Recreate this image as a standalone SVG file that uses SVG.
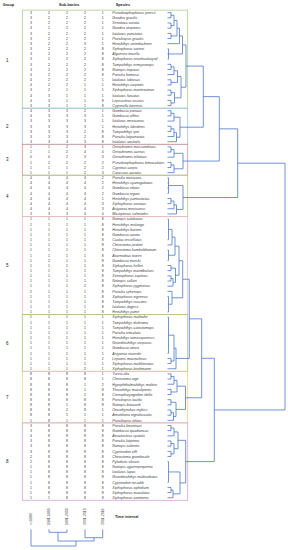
<svg xmlns="http://www.w3.org/2000/svg" width="288" height="550" viewBox="0 0 288 550">
<style>
text{font-family:"Liberation Sans",Arial,sans-serif;fill:#404040}
.h{font-size:3.8px;font-weight:bold;fill:#222}
.g{font-size:4.5px;fill:#222}
.n{font-size:3.5px;text-anchor:middle}
.s{font-size:3.6px;font-style:italic}
.box{fill:none;stroke-width:0.8}
.d{fill:none;stroke:#4472c4;stroke-width:0.75}
</style>
<rect width="288" height="550" fill="#fff"/>
<g id="header">
<text class="h" x="2.7" y="5.5">Group</text>
<text class="h" x="59" y="5.5">Sub-basins</text>
<text class="h" x="115.7" y="5.5">Species</text>
</g>
<g id="group1">
<rect class="box" x="22.3" y="10.1" width="165.4" height="98.1" stroke="#a9d08e"/>
<text class="g" x="6" y="61.6">1</text>
<text class="n" y="14"><tspan x="31">3</tspan><tspan x="49">2</tspan><tspan x="67">2</tspan><tspan x="85">2</tspan><tspan x="102.7">1</tspan></text><text class="s" x="112.3" y="14">Pseudoxiphophorus jonesii</text>
<text class="n" y="19.16"><tspan x="31">3</tspan><tspan x="49">2</tspan><tspan x="67">2</tspan><tspan x="85">2</tspan><tspan x="102.7">1</tspan></text><text class="s" x="112.3" y="19.16">Goodea gracilis</text>
<text class="n" y="24.32"><tspan x="31">3</tspan><tspan x="49">2</tspan><tspan x="67">2</tspan><tspan x="85">2</tspan><tspan x="102.7">1</tspan></text><text class="s" x="112.3" y="24.32">Xenotoca variata</text>
<text class="n" y="29.48"><tspan x="31">3</tspan><tspan x="49">2</tspan><tspan x="67">2</tspan><tspan x="85">2</tspan><tspan x="102.7">1</tspan></text><text class="s" x="112.3" y="29.48">Goodea atripinnis</text>
<text class="n" y="34.64"><tspan x="31">3</tspan><tspan x="49">2</tspan><tspan x="67">2</tspan><tspan x="85">2</tspan><tspan x="102.7">1</tspan></text><text class="s" x="112.3" y="34.64">Ictalurus punctatus</text>
<text class="n" y="39.8"><tspan x="31">3</tspan><tspan x="49">2</tspan><tspan x="67">2</tspan><tspan x="85">2</tspan><tspan x="102.7">1</tspan></text><text class="s" x="112.3" y="39.8">Poeciliopsis gracilis</text>
<text class="n" y="44.96"><tspan x="31">3</tspan><tspan x="49">2</tspan><tspan x="67">2</tspan><tspan x="85">3</tspan><tspan x="102.7">1</tspan></text><text class="s" x="112.3" y="44.96">Herichthys steindachneri</text>
<text class="n" y="50.12"><tspan x="31">3</tspan><tspan x="49">2</tspan><tspan x="67">2</tspan><tspan x="85">2</tspan><tspan x="102.7">8</tspan></text><text class="s" x="112.3" y="50.12">Xiphophorus cortezi</text>
<text class="n" y="55.28"><tspan x="31">3</tspan><tspan x="49">2</tspan><tspan x="67">2</tspan><tspan x="85">2</tspan><tspan x="102.7">8</tspan></text><text class="s" x="112.3" y="55.28">Algansea tincella</text>
<text class="n" y="60.44"><tspan x="31">3</tspan><tspan x="49">2</tspan><tspan x="67">2</tspan><tspan x="85">2</tspan><tspan x="102.7">8</tspan></text><text class="s" x="112.3" y="60.44">Xiphophorus nezahualcoyotl</text>
<text class="n" y="65.6"><tspan x="31">3</tspan><tspan x="49">2</tspan><tspan x="67">2</tspan><tspan x="85">2</tspan><tspan x="102.7">8</tspan></text><text class="s" x="112.3" y="65.6">Tampichthys erimyzonops</text>
<text class="n" y="70.76"><tspan x="31">3</tspan><tspan x="49">2</tspan><tspan x="67">2</tspan><tspan x="85">2</tspan><tspan x="102.7">8</tspan></text><text class="s" x="112.3" y="70.76">Notropis tropicus</text>
<text class="n" y="75.92"><tspan x="31">4</tspan><tspan x="49">2</tspan><tspan x="67">2</tspan><tspan x="85">2</tspan><tspan x="102.7">8</tspan></text><text class="s" x="112.3" y="75.92">Poecilia formosa</text>
<text class="n" y="81.08"><tspan x="31">4</tspan><tspan x="49">2</tspan><tspan x="67">2</tspan><tspan x="85">2</tspan><tspan x="102.7">1</tspan></text><text class="s" x="112.3" y="81.08">Ictalurus labiosus</text>
<text class="n" y="86.24"><tspan x="31">4</tspan><tspan x="49">2</tspan><tspan x="67">2</tspan><tspan x="85">1</tspan><tspan x="102.7">1</tspan></text><text class="s" x="112.3" y="86.24">Herichthys carpintis</text>
<text class="n" y="91.4"><tspan x="31">3</tspan><tspan x="49">2</tspan><tspan x="67">1</tspan><tspan x="85">1</tspan><tspan x="102.7">1</tspan></text><text class="s" x="112.3" y="91.4">Xiphophorus montezumae</text>
<text class="n" y="96.56"><tspan x="31">4</tspan><tspan x="49">3</tspan><tspan x="67">1</tspan><tspan x="85">1</tspan><tspan x="102.7">1</tspan></text><text class="s" x="112.3" y="96.56">Ictalurus furcatus</text>
<text class="n" y="101.72"><tspan x="31">4</tspan><tspan x="49">3</tspan><tspan x="67">1</tspan><tspan x="85">1</tspan><tspan x="102.7">8</tspan></text><text class="s" x="112.3" y="101.72">Lepisosteus osseus</text>
<text class="n" y="106.88"><tspan x="31">3</tspan><tspan x="49">3</tspan><tspan x="67">1</tspan><tspan x="85">1</tspan><tspan x="102.7">8</tspan></text><text class="s" x="112.3" y="106.88">Cyprinella lutrensis</text>
</g>
<g id="group2">
<rect class="box" x="22.3" y="108.2" width="165.4" height="36.1" stroke="#9dc3e6"/>
<text class="g" x="6" y="127.8">2</text>
<text class="n" y="112.04"><tspan x="31">4</tspan><tspan x="49">3</tspan><tspan x="67">3</tspan><tspan x="85">2</tspan><tspan x="102.7">1</tspan></text><text class="s" x="112.3" y="112.04">Gambusia panuco</text>
<text class="n" y="117.2"><tspan x="31">4</tspan><tspan x="49">3</tspan><tspan x="67">3</tspan><tspan x="85">3</tspan><tspan x="102.7">1</tspan></text><text class="s" x="112.3" y="117.2">Gambusia affinis</text>
<text class="n" y="122.36"><tspan x="31">3</tspan><tspan x="49">3</tspan><tspan x="67">3</tspan><tspan x="85">3</tspan><tspan x="102.7">1</tspan></text><text class="s" x="112.3" y="122.36">Ictalurus mexicanus</text>
<text class="n" y="127.52"><tspan x="31">3</tspan><tspan x="49">3</tspan><tspan x="67">3</tspan><tspan x="85">3</tspan><tspan x="102.7">1</tspan></text><text class="s" x="112.3" y="127.52">Herichthys labridens</text>
<text class="n" y="132.68"><tspan x="31">3</tspan><tspan x="49">3</tspan><tspan x="67">3</tspan><tspan x="85">2</tspan><tspan x="102.7">8</tspan></text><text class="s" x="112.3" y="132.68">Tampichthys ipni</text>
<text class="n" y="137.84"><tspan x="31">3</tspan><tspan x="49">3</tspan><tspan x="67">3</tspan><tspan x="85">2</tspan><tspan x="102.7">8</tspan></text><text class="s" x="112.3" y="137.84">Poecilia latipunctata</text>
<text class="n" y="143"><tspan x="31">3</tspan><tspan x="49">3</tspan><tspan x="67">3</tspan><tspan x="85">3</tspan><tspan x="102.7">8</tspan></text><text class="s" x="112.3" y="143">Ictalurus australis</text>
</g>
<g id="group3">
<rect class="box" x="22.3" y="144.3" width="165.4" height="30.9" stroke="#d99594"/>
<text class="g" x="6" y="161.3">3</text>
<text class="n" y="148.16"><tspan x="31">1</tspan><tspan x="49">1</tspan><tspan x="67">2</tspan><tspan x="85">3</tspan><tspan x="102.7">1</tspan></text><text class="s" x="112.3" y="148.16">Oreochromis mossambicus</text>
<text class="n" y="153.32"><tspan x="31">1</tspan><tspan x="49">1</tspan><tspan x="67">2</tspan><tspan x="85">4</tspan><tspan x="102.7">4</tspan></text><text class="s" x="112.3" y="153.32">Oreochromis aureus</text>
<text class="n" y="158.48"><tspan x="31">0</tspan><tspan x="49">0</tspan><tspan x="67">2</tspan><tspan x="85">3</tspan><tspan x="102.7">3</tspan></text><text class="s" x="112.3" y="158.48">Oreochromis niloticus</text>
<text class="n" y="163.64"><tspan x="31">1</tspan><tspan x="49">2</tspan><tspan x="67">2</tspan><tspan x="85">2</tspan><tspan x="102.7">2</tspan></text><text class="s" x="112.3" y="163.64">Pseudoxiphophorus bimaculatus</text>
<text class="n" y="168.8"><tspan x="31">1</tspan><tspan x="49">1</tspan><tspan x="67">1</tspan><tspan x="85">2</tspan><tspan x="102.7">2</tspan></text><text class="s" x="112.3" y="168.8">Cyprinus carpio</text>
<text class="n" y="173.96"><tspan x="31">1</tspan><tspan x="49">1</tspan><tspan x="67">1</tspan><tspan x="85">2</tspan><tspan x="102.7">3</tspan></text><text class="s" x="112.3" y="173.96">Carassius auratus</text>
</g>
<g id="group4">
<rect class="box" x="22.3" y="175.2" width="165.4" height="41.3" stroke="#a9d08e"/>
<text class="g" x="6" y="197.5">4</text>
<text class="n" y="179.12"><tspan x="31">4</tspan><tspan x="49">4</tspan><tspan x="67">4</tspan><tspan x="85">4</tspan><tspan x="102.7">2</tspan></text><text class="s" x="112.3" y="179.12">Poecilia mexicana</text>
<text class="n" y="184.28"><tspan x="31">4</tspan><tspan x="49">4</tspan><tspan x="67">4</tspan><tspan x="85">4</tspan><tspan x="102.7">2</tspan></text><text class="s" x="112.3" y="184.28">Herichthys cyanoguttatus</text>
<text class="n" y="189.44"><tspan x="31">4</tspan><tspan x="49">4</tspan><tspan x="67">4</tspan><tspan x="85">4</tspan><tspan x="102.7">2</tspan></text><text class="s" x="112.3" y="189.44">Gambusia vittata</text>
<text class="n" y="194.6"><tspan x="31">4</tspan><tspan x="49">4</tspan><tspan x="67">4</tspan><tspan x="85">4</tspan><tspan x="102.7">2</tspan></text><text class="s" x="112.3" y="194.6">Gambusia regani</text>
<text class="n" y="199.76"><tspan x="31">4</tspan><tspan x="49">4</tspan><tspan x="67">4</tspan><tspan x="85">4</tspan><tspan x="102.7">1</tspan></text><text class="s" x="112.3" y="199.76">Herichthys pantostictus</text>
<text class="n" y="204.92"><tspan x="31">4</tspan><tspan x="49">4</tspan><tspan x="67">4</tspan><tspan x="85">4</tspan><tspan x="102.7">3</tspan></text><text class="s" x="112.3" y="204.92">Xiphophorus variatus</text>
<text class="n" y="210.08"><tspan x="31">4</tspan><tspan x="49">4</tspan><tspan x="67">4</tspan><tspan x="85">4</tspan><tspan x="102.7">3</tspan></text><text class="s" x="112.3" y="210.08">Astyanax mexicanus</text>
<text class="n" y="215.24"><tspan x="31">3</tspan><tspan x="49">3</tspan><tspan x="67">3</tspan><tspan x="85">4</tspan><tspan x="102.7">4</tspan></text><text class="s" x="112.3" y="215.24">Micropterus salmoides</text>
</g>
<g id="group5">
<rect class="box" x="22.3" y="216.5" width="165.4" height="98.1" stroke="#f4b6c8"/>
<text class="g" x="6" y="267.1">5</text>
<text class="n" y="220.4"><tspan x="31">1</tspan><tspan x="49">1</tspan><tspan x="67">1</tspan><tspan x="85">1</tspan><tspan x="102.7">8</tspan></text><text class="s" x="112.3" y="220.4">Notropis calabazas</text>
<text class="n" y="225.56"><tspan x="31">1</tspan><tspan x="49">1</tspan><tspan x="67">1</tspan><tspan x="85">1</tspan><tspan x="102.7">8</tspan></text><text class="s" x="112.3" y="225.56">Herichthys molango</text>
<text class="n" y="230.72"><tspan x="31">1</tspan><tspan x="49">1</tspan><tspan x="67">1</tspan><tspan x="85">1</tspan><tspan x="102.7">8</tspan></text><text class="s" x="112.3" y="230.72">Herichthys bartoni</text>
<text class="n" y="235.88"><tspan x="31">1</tspan><tspan x="49">1</tspan><tspan x="67">1</tspan><tspan x="85">1</tspan><tspan x="102.7">8</tspan></text><text class="s" x="112.3" y="235.88">Gambusia aurata</text>
<text class="n" y="241.04"><tspan x="31">1</tspan><tspan x="49">1</tspan><tspan x="67">1</tspan><tspan x="85">1</tspan><tspan x="102.7">8</tspan></text><text class="s" x="112.3" y="241.04">Cualac tessellatus</text>
<text class="n" y="246.2"><tspan x="31">1</tspan><tspan x="49">1</tspan><tspan x="67">1</tspan><tspan x="85">1</tspan><tspan x="102.7">8</tspan></text><text class="s" x="112.3" y="246.2">Chirostoma jordani</text>
<text class="n" y="251.36"><tspan x="31">1</tspan><tspan x="49">1</tspan><tspan x="67">1</tspan><tspan x="85">1</tspan><tspan x="102.7">8</tspan></text><text class="s" x="112.3" y="251.36">Chirostoma humboldtianum</text>
<text class="n" y="256.52"><tspan x="31">1</tspan><tspan x="49">1</tspan><tspan x="67">1</tspan><tspan x="85">1</tspan><tspan x="102.7">8</tspan></text><text class="s" x="112.3" y="256.52">Ataeniobius toweri</text>
<text class="n" y="261.68"><tspan x="31">1</tspan><tspan x="49">2</tspan><tspan x="67">1</tspan><tspan x="85">1</tspan><tspan x="102.7">8</tspan></text><text class="s" x="112.3" y="261.68">Gambusia marshi</text>
<text class="n" y="266.84"><tspan x="31">1</tspan><tspan x="49">1</tspan><tspan x="67">1</tspan><tspan x="85">1</tspan><tspan x="102.7">8</tspan></text><text class="s" x="112.3" y="266.84">Xiphophorus helleri</text>
<text class="n" y="272"><tspan x="31">1</tspan><tspan x="49">1</tspan><tspan x="67">1</tspan><tspan x="85">1</tspan><tspan x="102.7">8</tspan></text><text class="s" x="112.3" y="272">Tampichthys mandibularis</text>
<text class="n" y="277.16"><tspan x="31">1</tspan><tspan x="49">1</tspan><tspan x="67">1</tspan><tspan x="85">1</tspan><tspan x="102.7">8</tspan></text><text class="s" x="112.3" y="277.16">Xenoophorus captivus</text>
<text class="n" y="282.32"><tspan x="31">1</tspan><tspan x="49">1</tspan><tspan x="67">1</tspan><tspan x="85">1</tspan><tspan x="102.7">8</tspan></text><text class="s" x="112.3" y="282.32">Notropis sallaei</text>
<text class="n" y="287.48"><tspan x="31">1</tspan><tspan x="49">1</tspan><tspan x="67">1</tspan><tspan x="85">2</tspan><tspan x="102.7">8</tspan></text><text class="s" x="112.3" y="287.48">Xiphophorus pygmaeus</text>
<text class="n" y="292.64"><tspan x="31">2</tspan><tspan x="49">1</tspan><tspan x="67">1</tspan><tspan x="85">1</tspan><tspan x="102.7">8</tspan></text><text class="s" x="112.3" y="292.64">Poecilia sphenops</text>
<text class="n" y="297.8"><tspan x="31">1</tspan><tspan x="49">1</tspan><tspan x="67">1</tspan><tspan x="85">1</tspan><tspan x="102.7">8</tspan></text><text class="s" x="112.3" y="297.8">Xiphophorus nigrensis</text>
<text class="n" y="302.96"><tspan x="31">1</tspan><tspan x="49">1</tspan><tspan x="67">1</tspan><tspan x="85">1</tspan><tspan x="102.7">8</tspan></text><text class="s" x="112.3" y="302.96">Tampichthys rasconis</text>
<text class="n" y="308.12"><tspan x="31">1</tspan><tspan x="49">1</tspan><tspan x="67">1</tspan><tspan x="85">1</tspan><tspan x="102.7">8</tspan></text><text class="s" x="112.3" y="308.12">Ictalurus dugesii</text>
<text class="n" y="313.28"><tspan x="31">1</tspan><tspan x="49">1</tspan><tspan x="67">1</tspan><tspan x="85">1</tspan><tspan x="102.7">8</tspan></text><text class="s" x="112.3" y="313.28">Herichthys pame</text>
</g>
<g id="group6">
<rect class="box" x="22.3" y="314.6" width="165.4" height="56.7" stroke="#a9c47f"/>
<text class="g" x="6" y="344.5">6</text>
<text class="n" y="318.44"><tspan x="31">1</tspan><tspan x="49">1</tspan><tspan x="67">1</tspan><tspan x="85">1</tspan><tspan x="102.7">1</tspan></text><text class="s" x="112.3" y="318.44">Xiphophorus malinche</text>
<text class="n" y="323.6"><tspan x="31">1</tspan><tspan x="49">1</tspan><tspan x="67">1</tspan><tspan x="85">1</tspan><tspan x="102.7">1</tspan></text><text class="s" x="112.3" y="323.6">Tampichthys dichroma</text>
<text class="n" y="328.76"><tspan x="31">1</tspan><tspan x="49">1</tspan><tspan x="67">1</tspan><tspan x="85">1</tspan><tspan x="102.7">1</tspan></text><text class="s" x="112.3" y="328.76">Tampichthys catostomops</text>
<text class="n" y="333.92"><tspan x="31">1</tspan><tspan x="49">1</tspan><tspan x="67">1</tspan><tspan x="85">1</tspan><tspan x="102.7">1</tspan></text><text class="s" x="112.3" y="333.92">Poecilia reticulata</text>
<text class="n" y="339.08"><tspan x="31">1</tspan><tspan x="49">1</tspan><tspan x="67">1</tspan><tspan x="85">1</tspan><tspan x="102.7">1</tspan></text><text class="s" x="112.3" y="339.08">Herichthys tamasopoensis</text>
<text class="n" y="344.24"><tspan x="31">1</tspan><tspan x="49">1</tspan><tspan x="67">1</tspan><tspan x="85">1</tspan><tspan x="102.7">1</tspan></text><text class="s" x="112.3" y="344.24">Girardinichthys viviparus</text>
<text class="n" y="349.4"><tspan x="31">1</tspan><tspan x="49">1</tspan><tspan x="67">1</tspan><tspan x="85">1</tspan><tspan x="102.7">1</tspan></text><text class="s" x="112.3" y="349.4">Gambusia atrora</text>
<text class="n" y="354.56"><tspan x="31">1</tspan><tspan x="49">1</tspan><tspan x="67">1</tspan><tspan x="85">1</tspan><tspan x="102.7">1</tspan></text><text class="s" x="112.3" y="354.56">Astyanax rioverde</text>
<text class="n" y="359.72"><tspan x="31">1</tspan><tspan x="49">1</tspan><tspan x="67">1</tspan><tspan x="85">1</tspan><tspan x="102.7">2</tspan></text><text class="s" x="112.3" y="359.72">Lepomis macrochirus</text>
<text class="n" y="364.88"><tspan x="31">1</tspan><tspan x="49">1</tspan><tspan x="67">1</tspan><tspan x="85">1</tspan><tspan x="102.7">1</tspan></text><text class="s" x="112.3" y="364.88">Xiphophorus multilineatus</text>
<text class="n" y="370.04"><tspan x="31">1</tspan><tspan x="49">1</tspan><tspan x="67">1</tspan><tspan x="85">2</tspan><tspan x="102.7">1</tspan></text><text class="s" x="112.3" y="370.04">Xiphophorus birchmanni</text>
</g>
<g id="group7">
<rect class="box" x="22.3" y="371.3" width="165.4" height="51.6" stroke="#f4d27a"/>
<text class="g" x="6" y="398.7">7</text>
<text class="n" y="375.2"><tspan x="31">8</tspan><tspan x="49">8</tspan><tspan x="67">8</tspan><tspan x="85">8</tspan><tspan x="102.7">1</tspan></text><text class="s" x="112.3" y="375.2">Yuriria alta</text>
<text class="n" y="380.36"><tspan x="31">8</tspan><tspan x="49">8</tspan><tspan x="67">8</tspan><tspan x="85">8</tspan><tspan x="102.7">1</tspan></text><text class="s" x="112.3" y="380.36">Chirostoma arge</text>
<text class="n" y="385.52"><tspan x="31">8</tspan><tspan x="49">8</tspan><tspan x="67">8</tspan><tspan x="85">1</tspan><tspan x="102.7">2</tspan></text><text class="s" x="112.3" y="385.52">Hypophthalmichthys molitrix</text>
<text class="n" y="390.68"><tspan x="31">8</tspan><tspan x="49">8</tspan><tspan x="67">8</tspan><tspan x="85">1</tspan><tspan x="102.7">8</tspan></text><text class="s" x="112.3" y="390.68">Thorichthys maculipinnis</text>
<text class="n" y="395.84"><tspan x="31">8</tspan><tspan x="49">8</tspan><tspan x="67">8</tspan><tspan x="85">2</tspan><tspan x="102.7">8</tspan></text><text class="s" x="112.3" y="395.84">Ctenopharyngodon idella</text>
<text class="n" y="401"><tspan x="31">8</tspan><tspan x="49">8</tspan><tspan x="67">8</tspan><tspan x="85">8</tspan><tspan x="102.7">8</tspan></text><text class="s" x="112.3" y="401">Poeciliopsis lucida</text>
<text class="n" y="406.16"><tspan x="31">8</tspan><tspan x="49">8</tspan><tspan x="67">1</tspan><tspan x="85">8</tspan><tspan x="102.7">8</tspan></text><text class="s" x="112.3" y="406.16">Notropis boucardi</text>
<text class="n" y="411.32"><tspan x="31">8</tspan><tspan x="49">8</tspan><tspan x="67">2</tspan><tspan x="85">8</tspan><tspan x="102.7">1</tspan></text><text class="s" x="112.3" y="411.32">Oncorhynchus mykiss</text>
<text class="n" y="416.48"><tspan x="31">8</tspan><tspan x="49">8</tspan><tspan x="67">1</tspan><tspan x="85">1</tspan><tspan x="102.7">1</tspan></text><text class="s" x="112.3" y="416.48">Amatitlania nigrofasciata</text>
<text class="n" y="421.64"><tspan x="31">1</tspan><tspan x="49">8</tspan><tspan x="67">1</tspan><tspan x="85">1</tspan><tspan x="102.7">1</tspan></text><text class="s" x="112.3" y="421.64">Poeciliopsis infans</text>
</g>
<g id="group8">
<rect class="box" x="22.3" y="422.9" width="165.4" height="77.4" stroke="#d8a3e0"/>
<text class="g" x="6" y="463.2">8</text>
<text class="n" y="426.8"><tspan x="31">3</tspan><tspan x="49">8</tspan><tspan x="67">8</tspan><tspan x="85">8</tspan><tspan x="102.7">8</tspan></text><text class="s" x="112.3" y="426.8">Poecilia limantouri</text>
<text class="n" y="431.96"><tspan x="31">3</tspan><tspan x="49">8</tspan><tspan x="67">8</tspan><tspan x="85">8</tspan><tspan x="102.7">8</tspan></text><text class="s" x="112.3" y="431.96">Gambusia quadruncus</text>
<text class="n" y="437.12"><tspan x="31">4</tspan><tspan x="49">8</tspan><tspan x="67">8</tspan><tspan x="85">8</tspan><tspan x="102.7">8</tspan></text><text class="s" x="112.3" y="437.12">Atractosteus spatula</text>
<text class="n" y="442.28"><tspan x="31">3</tspan><tspan x="49">8</tspan><tspan x="67">8</tspan><tspan x="85">8</tspan><tspan x="102.7">8</tspan></text><text class="s" x="112.3" y="442.28">Poecilia latipinna</text>
<text class="n" y="447.44"><tspan x="31">3</tspan><tspan x="49">8</tspan><tspan x="67">8</tspan><tspan x="85">8</tspan><tspan x="102.7">8</tspan></text><text class="s" x="112.3" y="447.44">Notropis calientis</text>
<text class="n" y="452.6"><tspan x="31">3</tspan><tspan x="49">8</tspan><tspan x="67">8</tspan><tspan x="85">8</tspan><tspan x="102.7">8</tspan></text><text class="s" x="112.3" y="452.6">Cyprinodon ziffi</text>
<text class="n" y="457.76"><tspan x="31">2</tspan><tspan x="49">8</tspan><tspan x="67">8</tspan><tspan x="85">8</tspan><tspan x="102.7">8</tspan></text><text class="s" x="112.3" y="457.76">Chirostoma grandocule</text>
<text class="n" y="462.92"><tspan x="31">2</tspan><tspan x="49">8</tspan><tspan x="67">8</tspan><tspan x="85">8</tspan><tspan x="102.7">8</tspan></text><text class="s" x="112.3" y="462.92">Pylodictis olivaris</text>
<text class="n" y="468.08"><tspan x="31">1</tspan><tspan x="49">8</tspan><tspan x="67">8</tspan><tspan x="85">8</tspan><tspan x="102.7">8</tspan></text><text class="s" x="112.3" y="468.08">Notropis aguirrepequenoi</text>
<text class="n" y="473.24"><tspan x="31">1</tspan><tspan x="49">8</tspan><tspan x="67">8</tspan><tspan x="85">8</tspan><tspan x="102.7">8</tspan></text><text class="s" x="112.3" y="473.24">Ictalurus lupus</text>
<text class="n" y="478.4"><tspan x="31">1</tspan><tspan x="49">8</tspan><tspan x="67">8</tspan><tspan x="85">8</tspan><tspan x="102.7">8</tspan></text><text class="s" x="112.3" y="478.4">Girardinichthys multiradiatus</text>
<text class="n" y="483.56"><tspan x="31">1</tspan><tspan x="49">8</tspan><tspan x="67">8</tspan><tspan x="85">8</tspan><tspan x="102.7">8</tspan></text><text class="s" x="112.3" y="483.56">Cyprinodon rosaddi</text>
<text class="n" y="488.72"><tspan x="31">1</tspan><tspan x="49">8</tspan><tspan x="67">8</tspan><tspan x="85">8</tspan><tspan x="102.7">8</tspan></text><text class="s" x="112.3" y="488.72">Xiphophorus xiphidium</text>
<text class="n" y="493.88"><tspan x="31">1</tspan><tspan x="49">8</tspan><tspan x="67">8</tspan><tspan x="85">8</tspan><tspan x="102.7">8</tspan></text><text class="s" x="112.3" y="493.88">Xiphophorus maculatus</text>
<text class="n" y="499.04"><tspan x="31">1</tspan><tspan x="49">1</tspan><tspan x="67">8</tspan><tspan x="85">8</tspan><tspan x="102.7">8</tspan></text><text class="s" x="112.3" y="499.04">Xiphophorus continens</text>
</g>
<g id="connectors" class="d">
<path d="M167.5 12.7H171V17.86H167.5M167.5 23.02H171V28.18H167.5M171 15.28H174V25.6H171M167.5 33.34H171V38.5H167.5M174 20.44H177V35.92H171M177 28.18H179.5V43.66H167.5M167.5 48.82H168.5V59.14H167.5M167.5 53.98H168.5M179.5 35.92H182.5V53.98H168.5M167.5 64.3H171V69.46H167.5M171 66.88H174V74.62H167.5M167.5 79.78H171V84.94H167.5M174 70.75H177.5V82.36H171M167.5 90.1H171V95.26H167.5M167.5 100.42H171V105.58H167.5M171 92.68H174.5V103H171M177.5 76.56H181V97.84H174.5M182.5 44.95H186V87.2H181"/>
<path d="M167.5 110.74H171V115.9H167.5M171 113.32H174V121.06H167.5M167.5 126.22H171V131.38H167.5M171 128.8H174V136.54H167.5M174 132.67H176.5V141.7H167.5M174 117.19H180V137.19H176.5"/>
<path d="M167.5 146.86H171V152.02H167.5M171 149.44H174V157.18H167.5M167.5 162.34H171V167.5H167.5M171 164.92H174V172.66H167.5M174 153.31H183V168.79H174"/>
<path d="M167.5 177.82H168.5V193.3H167.5M167.5 182.98H168.5M167.5 188.14H168.5M167.5 198.46H171V203.62H167.5M171 201.04H174V208.78H167.5M174 204.91H176.5V213.94H167.5M168.5 185.56H183V209.43H176.5"/>
<path d="M167.5 219.1H168.5V239.74H167.5M168.5 229.42H172V244.9H167.5M167.5 250.06H168.5V260.38H167.5M172 237.16H175V255.22H168.5M167.5 265.54H171V270.7H167.5M167.5 275.86H171V281.02H167.5M171 278.44H173V286.18H167.5M171 268.12H175.5V282.31H173M175 246.19H179V275.22H175.5M167.5 296.5H168.5V311.98H167.5M167.5 291.34H172V304.24H168.5M179 260.7H182.7V297.79H172"/>
<path d="M167.5 317.14H168.5V353.26H167.5M167.5 358.42H171V363.58H167.5M168.5 335.2H174V361H171M174 348.1H176V368.74H167.5M182.7 279.25H189.3V358.42H176"/>
<path d="M167.5 373.9H171V379.06H167.5M171 376.48H174V384.22H167.5M167.5 389.38H171V394.54H167.5M174 380.35H177V391.96H171M167.5 399.7H171V404.86H167.5M167.5 410.02H171V415.18H167.5M171 412.6H173.5V420.34H167.5M171 402.28H176V416.47H173.5M177 386.16H185.5V409.38H176M189.3 318.84H201.7V397.77H185.5"/>
<path d="M167.5 425.5H171V430.66H167.5M171 428.08H174V435.82H167.5M167.5 440.98H171V446.14H167.5M167.5 451.3H171V456.46H167.5M171 443.56H174V453.88H171M174 431.95H178V448.72H174M167.5 461.62H168.5V482.26H167.5M167.5 487.42H171V492.58H167.5M171 490H173V497.74H167.5M168.5 471.94H180V493.87H173M178 440.34H185.7V482.9H180M201.7 358.3H214.3V461.62H185.7"/>
<path d="M186 66.08H203.3V127.19H180M203.3 96.64H219.3V161.05H183M219.3 128.85H237.7V197.5H183M237.7 163.18H285V409.96H214.3"/>
</g>
<g id="time-interval">
<text class="n" style="text-anchor:start" transform="translate(32.3,525) rotate(-90)">&lt;=1980</text>
<text class="n" style="text-anchor:start" transform="translate(50.3,525) rotate(-90)">1981-1990</text>
<text class="n" style="text-anchor:start" transform="translate(68.3,525) rotate(-90)">1991-2000</text>
<text class="n" style="text-anchor:start" transform="translate(86.3,525) rotate(-90)">2001-2010</text>
<text class="n" style="text-anchor:start" transform="translate(104,525) rotate(-90)">2011-2018</text>
<text class="h" x="115" y="517.5">Time interval</text>
</g>
<g id="time-connectors" class="d">
<path d="M49 529.3V532.3H67V529.3M85 529.3V537.7H102.7V529.3M58 532.3V541H94V537.7M31 529.3V546H76V541"/>
</g>
</svg>
